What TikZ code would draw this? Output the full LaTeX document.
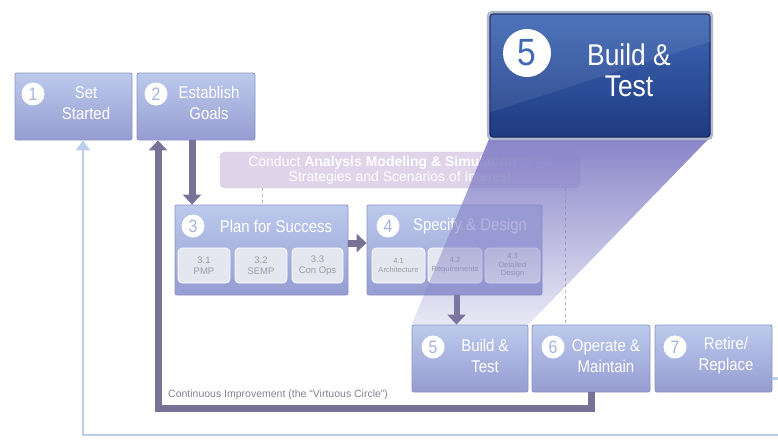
\documentclass[tikz,border=0pt]{standalone}
\usepackage{fontspec}
\setmainfont{Liberation Sans}
\newfontfamily\cond{Liberation Sans}[FakeStretch=0.88]
\usetikzlibrary{fadings,arrows.meta}
\definecolor{boxtop}{RGB}{188,202,236}
\definecolor{boxbot}{RGB}{150,156,210}
\definecolor{boxline}{RGB}{140,146,196}
\definecolor{numcol}{RGB}{165,180,224}
\definecolor{subfill}{RGB}{228,230,240}
\definecolor{subtext}{RGB}{155,155,170}
\definecolor{loopcol}{RGB}{122,114,150}
\definecolor{bluelink}{RGB}{186,206,234}
\definecolor{conductfill}{RGB}{224,212,234}
\definecolor{conductline}{RGB}{208,196,222}
\definecolor{calloutcol}{RGB}{136,132,200}
\definecolor{bigtop}{RGB}{64,104,182}
\definecolor{bigbot}{RGB}{30,58,130}
\definecolor{bigline}{RGB}{26,40,86}
\definecolor{bigrim}{RGB}{176,184,208}
\definecolor{dashcol}{RGB}{176,184,160}
\definecolor{cilabel}{RGB}{130,130,145}
\tikzfading[name=calloutfade, top color=transparent!0, middle color=transparent!30, bottom color=transparent!82]
\begin{document}
\begin{tikzpicture}[x=1pt,y=-1pt,
  stage/.style={rectangle, rounded corners=2pt, draw=boxline, line width=0.8pt, top color=boxtop, bottom color=boxbot, inner sep=0pt},
  num/.style={circle, fill=white, text=numcol, inner sep=0pt, minimum size=23pt, font=\cond\fontsize{18}{18}\selectfont},
  lbl/.style={text=white, align=center, inner sep=0pt, font=\cond\fontsize{17}{21}\selectfont},
  subbox/.style={rectangle, rounded corners=4pt, fill=subfill, draw=white, line width=0.6pt, inner sep=0pt, text=subtext, align=center, minimum height=35pt, font=\fontsize{9.5}{10.5}\selectfont},
  fatarrow/.style={draw=loopcol, line width=7pt, -{Triangle[width=18pt,length=10pt]}},
  ciloop/.style={draw=loopcol, line width=7pt, -{Triangle[width=18pt,length=10pt]}},
  bluearrow/.style={draw=bluelink, line width=2.5pt, -{Triangle[width=14pt,length=10pt]}},
  dashlink/.style={draw=dashcol, line width=0.8pt, dashed}
]
\useasboundingbox (0,0) rectangle (778,440);

% stage boxes
\node[stage, minimum width=117pt, minimum height=67pt] (b1) at (73.5,106.5) {};
\node[stage, minimum width=118pt, minimum height=67pt] (b2) at (196,106.5) {};
\node[stage, minimum width=173pt, minimum height=90pt] (b3) at (261.5,250) {};
\node[stage, minimum width=175pt, minimum height=90pt] (b4) at (454.5,250) {};
\node[stage, minimum width=116pt, minimum height=67pt] (b5) at (470,358.5) {};
\node[stage, minimum width=118pt, minimum height=67pt] (b6) at (591,358.5) {};
\node[stage, minimum width=117pt, minimum height=67pt] (b7) at (713.5,358.5) {};

% conduct box
\node[rectangle, rounded corners=5pt, fill=conductfill, draw=conductline, minimum width=360pt, minimum height=36pt, inner sep=0pt,
      text=white, align=center, font=\fontsize{14}{15}\selectfont] (conduct) at (400,170)
  {Conduct \textbf{Analysis Modeling \& Simulation} of All\\Strategies and Scenarios of Interest};

% feedback lines
\coordinate (edgeR) at (781,435);
\draw[bluearrow] ([yshift=-20pt]b7.east) -| (edgeR) -| ([xshift=9.5pt]b1.south);
\draw[ciloop] (b6.south) -- ++(0,16) -| ([xshift=-38pt]b2.south);
\node[anchor=west, inner sep=0pt, text=cilabel, font=\fontsize{10.5}{11}\selectfont] (cilbl) at (168,395)
  {Continuous Improvement (the ``Virtuous Circle'')};

% dashed links
\draw[dashlink] ([xshift=-138pt]conduct.south) -- ([xshift=-138pt]conduct.south |- b3.north);
\draw[dashlink] ([xshift=165pt]conduct.south) -- ([xshift=165pt]conduct.south |- b6.north);

% forward arrows
\draw[fatarrow] ([xshift=-4pt]b2.south) -- ([xshift=-4pt]b2.south |- b3.north);
\draw[fatarrow] ([yshift=7pt]b3.east) -- ([yshift=7pt]b4.west);
\draw[fatarrow, line width=6pt] ([xshift=2pt]b4.south) -- ([xshift=2pt]b4.south |- b5.north);

% numbers
\node[num] (c1) at (33,94) {1};
\node[num] (c2) at (156,94) {2};
\node[num] (c3) at (193,226) {3};
\node[num] (c4) at (388,226) {4};
\node[num] (c5) at (433,347) {5};
\node[num] (c6) at (553,347) {6};
\node[num] (c7) at (675,347) {7};

% labels
\node[lbl] (t1) at (86,103) {Set\\Started};
\node[lbl] (t2) at (209,103) {Establish\\Goals};
\node[lbl] (t3) at (276,226) {Plan for Success};
\node[lbl] (t4) at (470,226) {Specify \& Design};
\node[lbl] (t5) at (485,356) {Build \&\\Test};
\node[lbl] (t6) at (606,356) {Operate \&\\Maintain};
\node[lbl] (t7) at (726,356) {Retire/\\Replace};

% sub boxes
\node[subbox, minimum width=52pt] (s31) at (204,265.5) {3.1\\PMP};
\node[subbox, minimum width=52pt] (s32) at (261,265.5) {3.2\\SEMP};
\node[subbox, minimum width=51pt] (s33) at (317.5,265.5) {3.3\\Con Ops};
\node[subbox, minimum width=53pt, font=\fontsize{7.5}{9}\selectfont] (s41) at (398.5,265.5) {4.1\\Architecture};
\node[subbox, minimum width=54pt, font=\fontsize{7.5}{9}\selectfont] (s42) at (455,265.5) {4.2\\Requirements};
\node[subbox, minimum width=55pt, font=\fontsize{7.5}{8.5}\selectfont] (s43) at (512.5,265.5) {4.3\\Detailed\\Design};

% big callout
\node[rectangle, rounded corners=3pt, minimum width=220pt, minimum height=123pt, inner sep=0pt] (big) at (600,75.5) {};
\fill[calloutcol, path fading=calloutfade] (big.south west) -- (big.south east) -- (b5.north east) -- (b5.north west) -- cycle;
\draw[bigrim, line width=3pt, rounded corners=4pt] ([xshift=-1.5pt,yshift=1.5pt]big.north west) rectangle ([xshift=1.5pt,yshift=-1.5pt]big.south east);
\node[rectangle, rounded corners=3pt, minimum width=220pt, minimum height=123pt, inner sep=0pt,
      top color=bigtop, bottom color=bigbot, draw=bigline, line width=1.2pt] (bigbox) at (big.center) {};
\fill[white, opacity=0.08] (bigbox.north west) -- (bigbox.north east) -- ([yshift=-28pt]bigbox.north east) -- ([yshift=25pt]bigbox.south west) -- cycle;
\node[circle, fill=white, text=bigtop, inner sep=0pt, minimum size=48pt, font=\cond\fontsize{38}{38}\selectfont] (cbig) at (527,53) {5};
\node[text=white, align=center, inner sep=0pt, font=\cond\fontsize{30}{31}\selectfont] (tbig) at (629,70) {Build \&\\Test};
\end{tikzpicture}
\end{document}
